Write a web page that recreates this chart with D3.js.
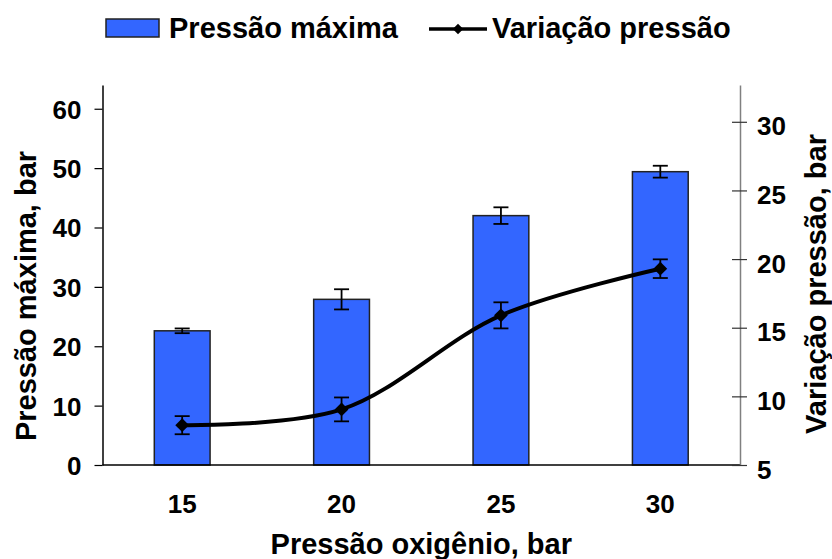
<!DOCTYPE html>
<html>
<head>
<meta charset="utf-8">
<script src="https://cdn.jsdelivr.net/npm/d3@7"></script>
<style>
  body { margin: 0; background: #fff; }
  svg text { font-family: "Liberation Sans", Arial, sans-serif; font-weight: bold; fill: #000; }
</style>
</head>
<body>
<script>
// Data
var categories = ["15", "20", "25", "30"];
var pressaoMaxima = [22.6, 27.9, 42.0, 49.4];
var pressaoMaximaErr = [0.4, 1.7, 1.4, 1.0];
var variacaoPressao = [7.9, 9.05, 15.9, 19.3];
var variacaoPressaoErr = [0.66, 0.87, 0.95, 0.68];
var leftTicks = [0, 10, 20, 30, 40, 50, 60];
var rightTicks = [5, 10, 15, 20, 25, 30];

// Plot box
var width = 832, height = 559;
var plot = { left: 102.5, right: 740, top: 85, bottom: 465 };

var svg = d3.select("body")
    .append("svg")
    .attr("width", width)
    .attr("height", height);

// Scales
var xScale = d3.scaleBand()
    .domain(categories)
    .range([plot.left, plot.right])
    .paddingInner(0.65)
    .paddingOuter(0.325);

var yLeft = d3.scaleLinear()
    .domain([0, 64])
    .range([plot.bottom, plot.top]);

var yRight = d3.scaleLinear()
    .domain([5, 32.68])
    .range([plot.bottom, plot.top]);

// Bars
svg.append("g")
    .selectAll("rect")
    .data(pressaoMaxima)
    .enter()
    .append("rect")
    .attr("x", function (d, i) { return xScale(categories[i]); })
    .attr("y", function (d) { return yLeft(d); })
    .attr("width", xScale.bandwidth())
    .attr("height", function (d) { return yLeft(0) - yLeft(d); })
    .attr("fill", "#3366ff")
    .attr("stroke", "#222")
    .attr("stroke-width", 1.5);

// Error bars helper
function errorBars(values, errs, yScale) {
    var g = svg.append("g").attr("stroke", "#000").attr("stroke-width", 1.8);
    values.forEach(function (v, i) {
        var cx = xScale(categories[i]) + xScale.bandwidth() / 2;
        var y1 = yScale(v - errs[i]), y2 = yScale(v + errs[i]);
        g.append("line").attr("x1", cx).attr("x2", cx).attr("y1", y1).attr("y2", y2);
        g.append("line").attr("x1", cx - 7.5).attr("x2", cx + 7.5).attr("y1", y1).attr("y2", y1);
        g.append("line").attr("x1", cx - 7.5).attr("x2", cx + 7.5).attr("y1", y2).attr("y2", y2);
    });
}
errorBars(pressaoMaxima, pressaoMaximaErr, yLeft);

// Smoothed line on the right axis
var line = d3.line()
    .x(function (d, i) { return xScale(categories[i]) + xScale.bandwidth() / 2; })
    .y(function (d) { return yRight(d); })
    .curve(d3.curveCatmullRom.alpha(0.5));

svg.append("path")
    .datum(variacaoPressao)
    .attr("d", line)
    .attr("fill", "none")
    .attr("stroke", "#000")
    .attr("stroke-width", 4);

errorBars(variacaoPressao, variacaoPressaoErr, yRight);

var diamond = d3.symbol().type(d3.symbolSquare).size(95);
svg.append("g")
    .selectAll("path")
    .data(variacaoPressao)
    .enter()
    .append("path")
    .attr("d", diamond)
    .attr("transform", function (d, i) {
        return "translate(" + (xScale(categories[i]) + xScale.bandwidth() / 2) + "," + yRight(d) + ") rotate(45)";
    })
    .attr("fill", "#000");

// X axis line + labels
svg.append("line")
    .attr("x1", plot.left).attr("x2", plot.right)
    .attr("y1", plot.bottom).attr("y2", plot.bottom)
    .attr("stroke", "#000").attr("stroke-width", 1.5);

svg.append("g")
    .selectAll("text")
    .data(categories)
    .enter()
    .append("text")
    .attr("x", function (d) { return xScale(d) + xScale.bandwidth() / 2; })
    .attr("y", 513)
    .attr("text-anchor", "middle")
    .style("font-size", "26px")
    .text(function (d) { return d; });

// Left axis
var leftAxis = d3.axisLeft(yLeft)
    .tickValues(leftTicks)
    .tickSize(8)
    .tickSizeOuter(0)
    .tickPadding(13);

var gl = svg.append("g")
    .attr("transform", "translate(" + plot.left + ",0)")
    .call(leftAxis);
gl.select(".domain").attr("stroke", "#000").attr("stroke-width", 1.5);
gl.selectAll(".tick line").attr("stroke", "#000").attr("stroke-width", 1.2);
gl.selectAll(".tick text")
    .attr("dy", "0.36em")
    .style("font-size", "26px")
    .style("font-family", "'Liberation Sans', Arial, sans-serif");

// Right axis (ticks cross the line)
var rightAxis = d3.axisRight(yRight)
    .tickValues(rightTicks)
    .tickSize(7)
    .tickSizeOuter(0)
    .tickPadding(10);

var gr = svg.append("g")
    .attr("transform", "translate(" + plot.right + ",0)")
    .call(rightAxis);
gr.select(".domain").attr("stroke", "#808080").attr("stroke-width", 1.5);
gr.selectAll(".tick line").attr("x1", -8).attr("stroke", "#333").attr("stroke-width", 1.2);
gr.selectAll(".tick text")
    .attr("dy", "0.5em")
    .style("font-size", "26px")
    .style("font-family", "'Liberation Sans', Arial, sans-serif");

// Axis titles
svg.append("text")
    .attr("x", (plot.left + plot.right) / 2)
    .attr("y", 554)
    .attr("text-anchor", "middle")
    .style("font-size", "29px")
    .text("Pressão oxigênio, bar");

svg.append("text")
    .attr("transform", "translate(36,296) rotate(-90)")
    .attr("text-anchor", "middle")
    .style("font-size", "29px")
    .text("Pressão máxima, bar");

svg.append("text")
    .attr("transform", "translate(826,284) rotate(-90)")
    .attr("text-anchor", "middle")
    .style("font-size", "29px")
    .text("Variação pressão, bar");

// Legend
var legend = svg.append("g");
legend.append("rect")
    .attr("x", 106).attr("y", 19)
    .attr("width", 53).attr("height", 18)
    .attr("fill", "#3366ff")
    .attr("stroke", "#222")
    .attr("stroke-width", 1.5);
legend.append("text")
    .attr("x", 169).attr("y", 38)
    .style("font-size", "29px")
    .text("Pressão máxima");

legend.append("line")
    .attr("x1", 429).attr("x2", 487)
    .attr("y1", 29).attr("y2", 29)
    .attr("stroke", "#000").attr("stroke-width", 3.5);
legend.append("path")
    .attr("d", d3.symbol().type(d3.symbolSquare).size(55))
    .attr("transform", "translate(458,29) rotate(45)")
    .attr("fill", "#000");
legend.append("text")
    .attr("x", 492).attr("y", 38)
    .style("font-size", "29px")
    .text("Variação pressão");
</script>
</body>
</html>
